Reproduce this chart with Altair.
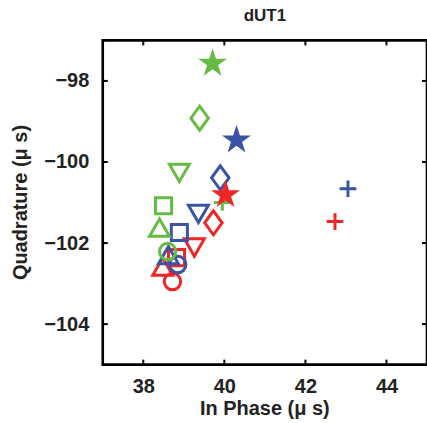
import altair as alt
import pandas as pd

# values
series = ["red"] * 7 + ["blue"] * 7 + ["green"] * 7
shapes = ["circle", "square", "up", "down", "diamond", "star", "plus"] * 3
in_phase = [38.72, 38.82, 38.48, 39.26, 39.73, 40.03, 42.73,
            38.85, 38.89, 38.62, 39.36, 39.90, 40.30, 43.05,
            38.60, 38.50, 38.40, 38.89, 39.39, 39.71, 39.95]
quadrature = [-102.95, -102.36, -102.58, -102.11, -101.50, -100.81, -101.47,
              -102.53, -101.74, -102.30, -101.28, -100.39, -99.46, -100.66,
              -102.21, -101.08, -101.62, -100.27, -98.92, -97.57, -101.00]
x_ticks = [38, 40, 42, 44]
y_ticks = [-98, -100, -102, -104]

df = pd.DataFrame({"x": in_phase, "y": quadrature, "series": series, "shape": shapes})
df_open = df[df["shape"] != "star"].reset_index(drop=True)
df_star = df[df["shape"] == "star"].reset_index(drop=True)

STAR = ("M0,-1L0.2245,-0.309L0.9511,-0.309L0.3633,0.118L0.5878,0.809L0,0.382"
        "L-0.5878,0.809L-0.3633,0.118L-0.9511,-0.309L-0.2245,-0.309Z")
color_scale = alt.Scale(domain=["red", "blue", "green"],
                        range=["#EE2626", "#3A53A4", "#66BB44"])
shape_dom = ["circle", "square", "up", "down", "diamond", "star", "plus"]
shape_scale = alt.Scale(
    domain=shape_dom,
    range=["circle", "square", "triangle-up", "triangle-down",
           "M0,-1.1L0.8,0L0,1.1L-0.8,0Z", STAR, "M-1,0L1,0M0,-1L0,1"])
size_scale = alt.Scale(type="ordinal", domain=shape_dom,
                       range=[270, 260, 400, 400, 480, 500, 280])

xs = alt.Scale(domain=[37, 45], nice=False, zero=False)
ys = alt.Scale(domain=[-105, -97], nice=False, zero=False)

font = "Liberation Sans"
xaxis = alt.Axis(values=x_ticks, domain=False, ticks=False, grid=False, orient="bottom",
                 labelFont=font, labelFontSize=20, labelFontWeight="bold",
                 labelColor="#222", labelPadding=12,
                 titleFont=font, titleFontSize=20, titleFontWeight="bold",
                 titleColor="#222", titleX=162, titleY=44, titleBaseline="middle")
yaxis = alt.Axis(values=y_ticks, domain=False, ticks=False, grid=False, orient="left",
                 labelFont=font, labelFontSize=20, labelFontWeight="bold",
                 labelColor="#222", labelPadding=14,
                 titleFont=font, titleFontSize=20, titleFontWeight="bold",
                 titleColor="#222", titleX=-82, titleY=162, titleBaseline="middle",
                 titleAngle=270)
XT = "In Phase (μ s)"
YT = "Quadrature (μ s)"

enc = dict(
    x=alt.X("x:Q", scale=xs, title=XT, axis=xaxis),
    y=alt.Y("y:Q", scale=ys, title=YT, axis=yaxis),
    color=alt.Color("series:N", scale=color_scale, legend=None),
    shape=alt.Shape("shape:N", scale=shape_scale, legend=None),
    size=alt.Size("shape:N", scale=size_scale, legend=None),
)

open_pts = alt.Chart(df_open).mark_point(filled=False, strokeWidth=3, opacity=1).encode(**enc)
star_fill = alt.Chart(df_star).mark_point(filled=True, opacity=1).encode(**enc)
star_line = alt.Chart(df_star).mark_point(filled=False, strokeWidth=2.5, opacity=1,
                                          strokeJoin="miter").encode(**enc)

xt = pd.DataFrame({"x": x_ticks})
yt = pd.DataFrame({"y": y_ticks})
rule = dict(color="black", strokeWidth=2)
tick_x_bottom = alt.Chart(xt).mark_rule(**rule).encode(
    x=alt.X("x:Q", scale=xs, title=XT, axis=xaxis), y=alt.value(325), y2=alt.value(320))
tick_x_top = alt.Chart(xt).mark_rule(**rule).encode(
    x=alt.X("x:Q", scale=xs, title=XT, axis=xaxis), y=alt.value(0), y2=alt.value(5))
tick_y_left = alt.Chart(yt).mark_rule(**rule).encode(
    y=alt.Y("y:Q", scale=ys, title=YT, axis=yaxis), x=alt.value(0), x2=alt.value(5))
tick_y_right = alt.Chart(yt).mark_rule(**rule).encode(
    y=alt.Y("y:Q", scale=ys, title=YT, axis=yaxis), x=alt.value(320), x2=alt.value(325))

chart = alt.layer(tick_x_bottom, tick_x_top, tick_y_left, tick_y_right,
                  open_pts, star_fill, star_line).properties(
    width=325, height=325,
    title=alt.TitleParams("dUT1", font=font, fontSize=17, fontWeight="bold",
                          color="#222", anchor="middle", offset=14),
    autosize=alt.AutoSizeParams(type="none"),
    padding={"left": 103, "top": 40, "right": 0, "bottom": 58},
).configure_view(stroke="black", strokeWidth=2.6)

chart.save("out.html", embed_options={"renderer": "svg", "actions": False})
